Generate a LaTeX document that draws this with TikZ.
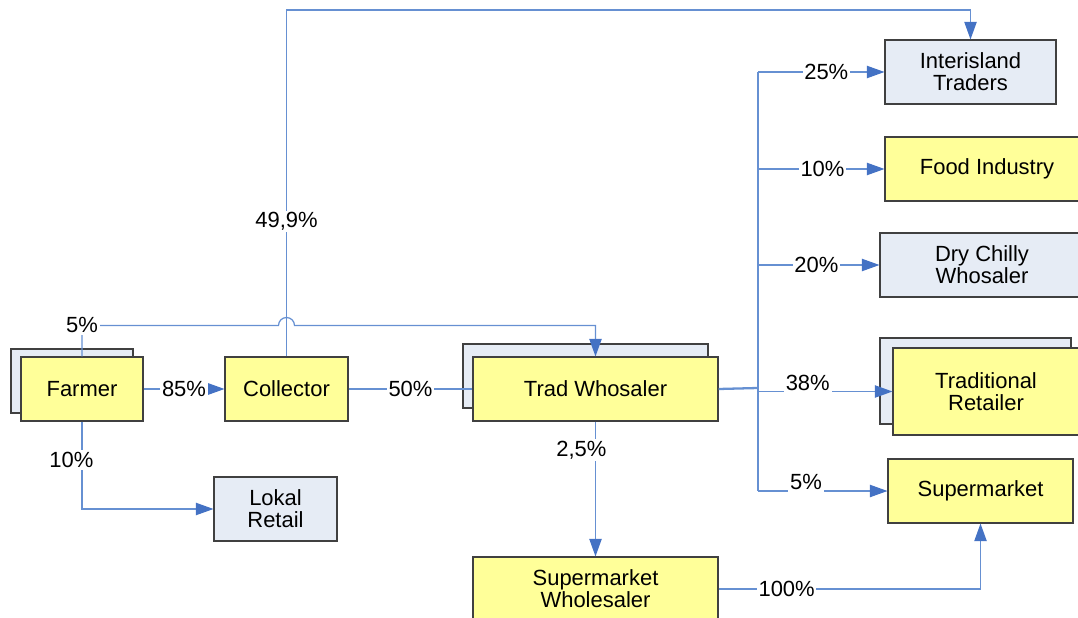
\documentclass[tikz,border=0pt]{standalone}
\usepackage{fontspec}
\setmainfont{Liberation Sans}
\usetikzlibrary{arrows.meta, calc}
\definecolor{boxYellow}{HTML}{FFFF99}
\definecolor{boxGrey}{HTML}{E6ECF5}
\definecolor{lineBlue}{HTML}{6690D2}
\definecolor{tipBlue}{HTML}{4472C4}

\begin{document}
\begin{tikzpicture}[
	x=0.02cm, y=-0.02cm,
	box/.style={draw=black!75, line width=0.6pt, align=center, inner sep=0pt, font=\fontsize{12.5}{12.5}\selectfont},
	sz/.style 2 args={minimum width=#1*0.02cm, minimum height=#2*0.02cm},
	yBox/.style={box, fill=boxYellow},
	gBox/.style={box, fill=boxGrey},
	flow/.style={lineBlue, line width=0.7pt},
	arrow/.style={flow, -{Triangle[length=10pt, width=7pt, color=tipBlue]}},
	pct/.style={fill=white, inner sep=1pt, text=black, font=\fontsize{12.5}{12.5}\selectfont}
	]
	
	\clip (0,0) rectangle (1078,618);
	\coordinate (top) at (0,10);
	\coordinate (hub) at (758,388);
	
	% Shadow boxes
	\node[gBox, sz={122}{64}] (farmerBk) at (72,381) {};
	\node[gBox, sz={245}{64}] (tradBk) at (585.5,376) {};
	\node[gBox, sz={191}{86}] (retailBk) at (975.5,381) {};
	
	% Boxes
	\node[yBox, sz={122}{64}] (farmer) at (82,389) {Farmer};
	\node[yBox, sz={123}{64}] (collector) at (286.5,389) {Collector};
	\node[gBox, sz={123}{64}] (lokal) at (275.5,509) {Lokal\\Retail};
	\node[yBox, sz={245}{64}] (trad) at (595.5,389) {Trad Whosaler};
	\node[yBox, sz={245}{64}] (smWhole) at (595.5,589) {Supermarket\\Wholesaler};
	\node[gBox, sz={171}{64}] (inter) at (970.5,72) {Interisland\\Traders};
	\node[yBox, sz={204}{64}] (food) at (987,169) {Food Industry};
	\node[gBox, sz={204}{64}] (dry) at (982,265) {Dry Chilly\\Whosaler};
	\node[yBox, sz={186}{87}] (retail) at (986,391.5) {Traditional\\Retailer};
	\node[yBox, sz={185}{64}] (super) at (980.5,491) {Supermarket};
	
	% Farmer
	\draw[arrow] (farmer) -- node[pct]{85\%} (collector);
	\draw[arrow] (farmer.south) |- node[pct, pos=.22, xshift=-6pt]{10\%} (lokal);
	\draw[arrow] (farmer.north) -- ++(0,-31) coordinate (c5) node[pct]{5\%}
		-- ($(collector.north |- c5) + (-8,0)$) arc[start angle=180, end angle=0, radius=0.16cm]
		-- (trad.north |- c5) -- (trad.north);
	
	% Collector
	\draw[flow] (collector) -- node[pct]{50\%} (trad);
	\draw[arrow] (collector.north) -- node[pct, pos=.39]{49,9\%} (collector.north |- top) -| (inter.north);
	
	% Trad wholesaler
	\draw[arrow] (trad) -- node[pct, pos=.21, xshift=-8pt]{2,5\%} (smWhole);
	\draw[flow, line width=1.3pt] (trad.east) -- (hub);
	\draw[flow] (hub |- inter) -- (hub |- super);
	\draw[arrow] (hub |- inter) -- node[pct, pos=.54]{25\%} (inter);
	\draw[arrow] (hub |- food) -- node[pct, pos=.51]{10\%} (food);
	\draw[arrow] (hub |- dry) -- node[pct, pos=.48]{20\%} (dry);
	\draw[arrow] (hub |- retail) -- node[pct, pos=.37, yshift=5pt]{38\%} (retail);
	\draw[arrow] (hub |- super) -- node[pct, pos=.37, yshift=5pt]{5\%} (super);
	
	% Supermarket wholesaler
	\draw[arrow] (smWhole.east) -| node[pct, pos=.13]{100\%} (super.south);
\end{tikzpicture}
\end{document}
